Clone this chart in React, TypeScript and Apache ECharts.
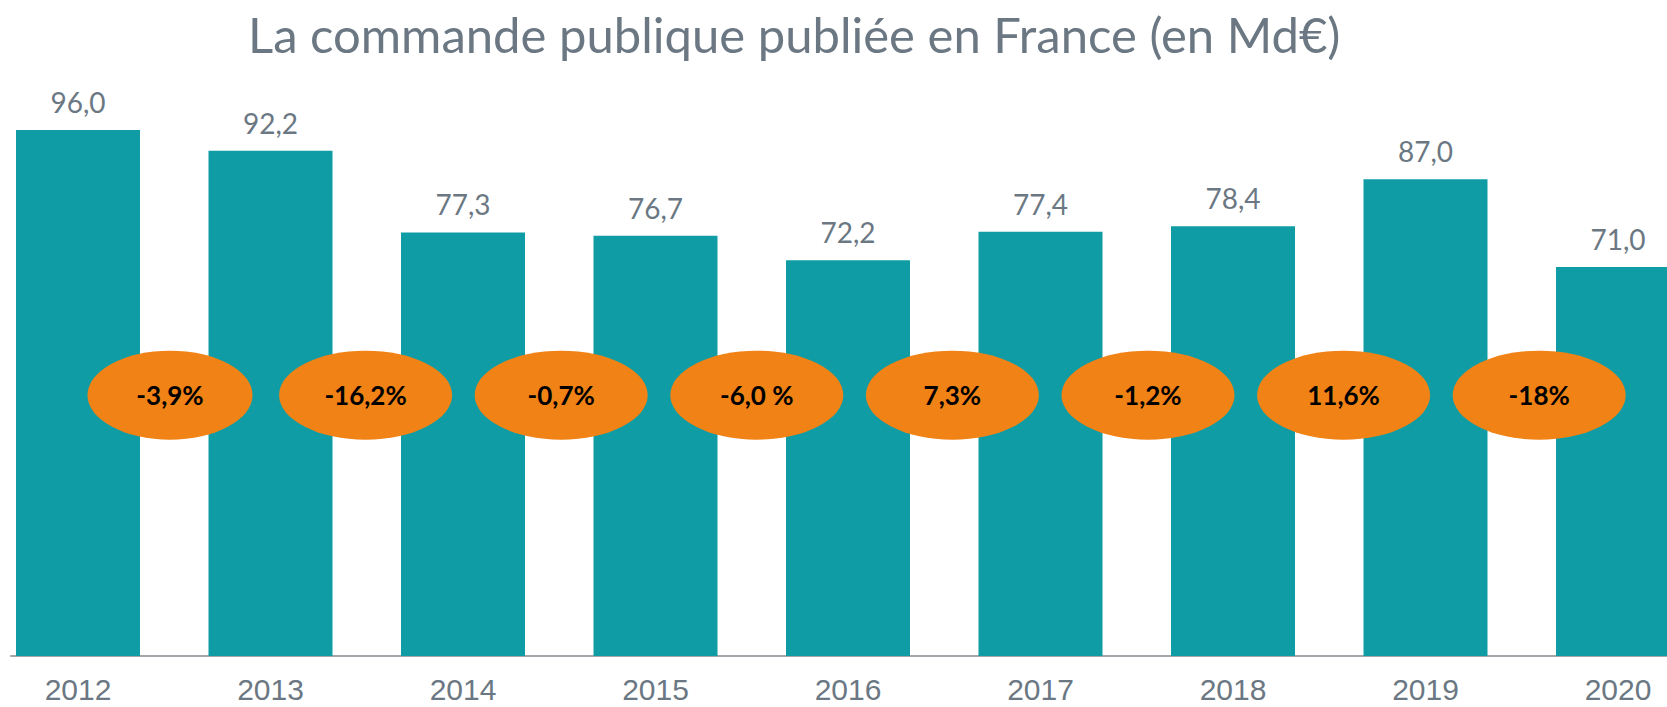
import React, { useEffect, useRef } from "react";
import * as echarts from "echarts";

const titleText = "La commande publique publiée en France (en Md€)";
const years = ["2012", "2013", "2014", "2015", "2016", "2017", "2018", "2019", "2020"];
const amounts = [96.0, 92.2, 77.3, 76.7, 72.2, 77.4, 78.4, 87.0, 71.0];
const changes = ["-3,9%", "-16,2%", "-0,7%", "-6,0 %", "7,3%", "-1,2%", "11,6%", "-18%"];

const TEAL = "#109CA4";
const ORANGE = "#F08216";
const GRAY_TEXT = "#6B7883";
const ELLIPSE = "path://M0 50 A50 50 0 1 1 100 50 A50 50 0 1 1 0 50 Z";

export default function App() {
  const ref = useRef<HTMLDivElement>(null);

  useEffect(() => {
    if (!ref.current) return;
    const chart = echarts.init(ref.current, null, { renderer: "svg" });
    const gridMain = {
      left: -18.25,
      right: -47.25,
      top: 108,
      bottom: 51,
      containLabel: false,
      outerBoundsMode: "none",
    };
    chart.setOption({
      animation: false,
      backgroundColor: "#ffffff",
      title: {
        text: titleText,
        left: 243,
        top: 0,
        textStyle: {
          fontFamily: "Lato",
          fontSize: 49,
          lineHeight: 58,
          fontWeight: "normal",
          color: GRAY_TEXT,
        },
      },
      grid: [
        gridMain,
        { left: 11, right: 0, top: 108, bottom: 51, containLabel: false, outerBoundsMode: "none" },
      ],
      xAxis: [
        {
          type: "category",
          gridIndex: 0,
          data: years,
          axisLine: { show: false },
          axisTick: { show: false },
          axisLabel: {
            margin: 18,
            fontFamily: "'Liberation Sans Narrow', 'Liberation Sans', sans-serif",
            fontSize: 30,
            lineHeight: 30,
            color: GRAY_TEXT,
          },
        },
        {
          type: "value",
          gridIndex: 0,
          min: -0.9624,
          max: 7.895,
          show: false,
        },
        {
          type: "category",
          gridIndex: 1,
          data: years,
          axisLine: { show: true, lineStyle: { color: "#A3A7AB", width: 2 } },
          axisTick: { show: false },
          axisLabel: { show: false },
        },
      ],
      yAxis: [
        { type: "value", gridIndex: 0, min: 0, max: 100, show: false },
        { type: "value", gridIndex: 1, min: 0, max: 100, show: false },
      ],
      series: [
        {
          type: "bar",
          xAxisIndex: 0,
          yAxisIndex: 0,
          data: amounts,
          barWidth: 124,
          itemStyle: { color: TEAL },
          label: {
            show: true,
            position: "top",
            distance: 14,
            fontFamily: "Lato",
            fontSize: 28,
            lineHeight: 28,
            color: GRAY_TEXT,
            formatter: (p: any) => Number(p.value).toFixed(1).replace(".", ","),
          },
          z: 2,
        },
        {
          type: "scatter",
          xAxisIndex: 1,
          yAxisIndex: 0,
          data: changes.map((_, i) => [i, 47.6]),
          symbol: ELLIPSE,
          symbolKeepAspect: false,
          symbolSize: (_v: any, p: any) => (p.dataIndex === 0 ? [165, 89] : [173, 89]),
          itemStyle: { color: ORANGE, opacity: 1 },
          label: {
            show: true,
            position: "inside",
            fontFamily: "Lato",
            fontWeight: "bold",
            fontSize: 26,
            color: "#000000",
            formatter: (p: any) => changes[p.dataIndex],
          },
          z: 5,
        },
      ],
    });
    return () => chart.dispose();
  }, []);

  return (
    <div
      style={{
        position: "fixed",
        left: 0,
        top: 0,
        width: 1667,
        height: 707,
        overflow: "hidden",
        background: "#fff",
      }}
    >
      <div ref={ref} style={{ width: 1667, height: 707 }} />
    </div>
  );
}
